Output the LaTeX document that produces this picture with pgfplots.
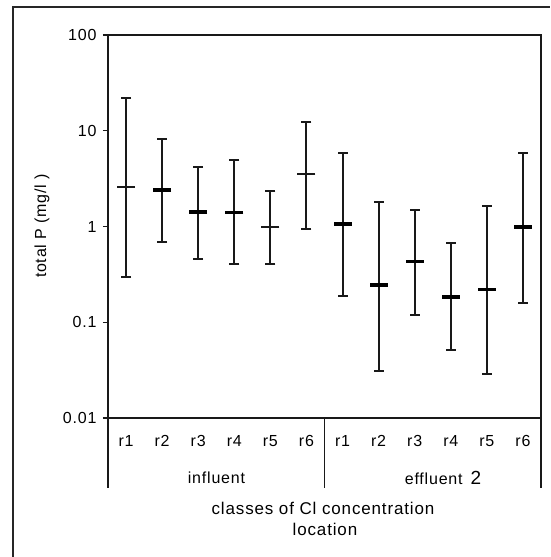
\documentclass[border=0pt]{standalone}
\usepackage{fontspec}
\setmainfont{Liberation Sans}[LetterSpace=5]
\usepackage{pgfplots}
\pgfplotsset{compat=1.18}
\begin{document}
\begin{tikzpicture}
\useasboundingbox (0,0) rectangle (550pt,557pt);
% outer frame (only left and top visible)
\draw[line width=1.3pt, black!85] (13pt,0pt) -- (13pt,550pt) -- (550pt,550pt);
\begin{axis}[
  at={(108pt,139pt)}, anchor=south west,
  scale only axis, width=433pt, height=383pt,
  ymode=log, ymin=0.01, ymax=100,
  xmin=-0.5, xmax=11.5,
  xtick={0,...,11},
  xticklabels={r1,r2,r3,r4,r5,r6,r1,r2,r3,r4,r5,r6},
  ytick={0.01,0.1,1,10,100},
  yticklabels={0.01,0.1,1,10,100},
  yminorticks=false,
  axis line style={line width=1.3pt, black!90},
  x tick style={draw=none},
  y tick style={line width=1.3pt, black!90},
  tick align=outside, major tick length=5pt,
  ytick pos=left,
  ticklabel style={font=\fontsize{16}{18}\selectfont},
  xticklabel style={anchor=base, yshift=-24pt},
  yticklabel style={xshift=-3pt},
  clip=false,
]
% whiskers: low and high values
\addplot[black!90, line width=2pt, mark=-, mark size=5pt, unbounded coords=jump]
coordinates {
(0,0.30)(0,22) (0,nan)
(1,0.69)(1,8.3) (1,nan)
(2,0.46)(2,4.2) (2,nan)
(3,0.41)(3,4.9) (3,nan)
(4,0.41)(4,2.35) (4,nan)
(5,0.95)(5,12.4) (5,nan)
(6,0.19)(6,5.8) (6,nan)
(7,0.031)(7,1.8) (7,nan)
(8,0.12)(8,1.5) (8,nan)
(9,0.051)(9,0.665) (9,nan)
(10,0.029)(10,1.62) (10,nan)
(11,0.158)(11,5.8)
};
% medians, thin
\addplot[only marks, black!90, mark=-, mark size=9pt, mark options={line width=2pt}]
coordinates {(0,2.6)(4,1.0)(5,3.55)};
% medians, thick
\addplot[only marks, black, mark=-, mark size=9pt, mark options={line width=3.8pt}]
coordinates {(1,2.4)(2,1.43)(3,1.4)(6,1.07)(7,0.245)(8,0.43)(9,0.185)(10,0.22)(11,0.98)};
\end{axis}
% group separators below the axis
\draw[line width=1.3pt, black!90] (108pt,69pt) -- (108pt,139pt);
\draw[line width=1.3pt, black!90] (324.5pt,69pt) -- (324.5pt,139pt);
\draw[line width=1.3pt, black!90] (541pt,69pt) -- (541pt,139pt);
\node[font=\fontsize{16}{18}\selectfont] at (216.5pt,79pt) {influent};
\node[font=\fontsize{16}{18}\selectfont] at (443pt,79pt) {effluent\enspace{\fontsize{19}{21}\selectfont 2}};
\node[font=\fontsize{17}{19}\selectfont] at (323pt,49pt) {classes of Cl concentration};
\node[font=\fontsize{17}{19}\selectfont] at (325pt,28pt) {location};
\node[font=\fontsize{16}{18}\selectfont, rotate=90] at (42pt,331pt) {total P (mg/l )};
\end{tikzpicture}
\end{document}
